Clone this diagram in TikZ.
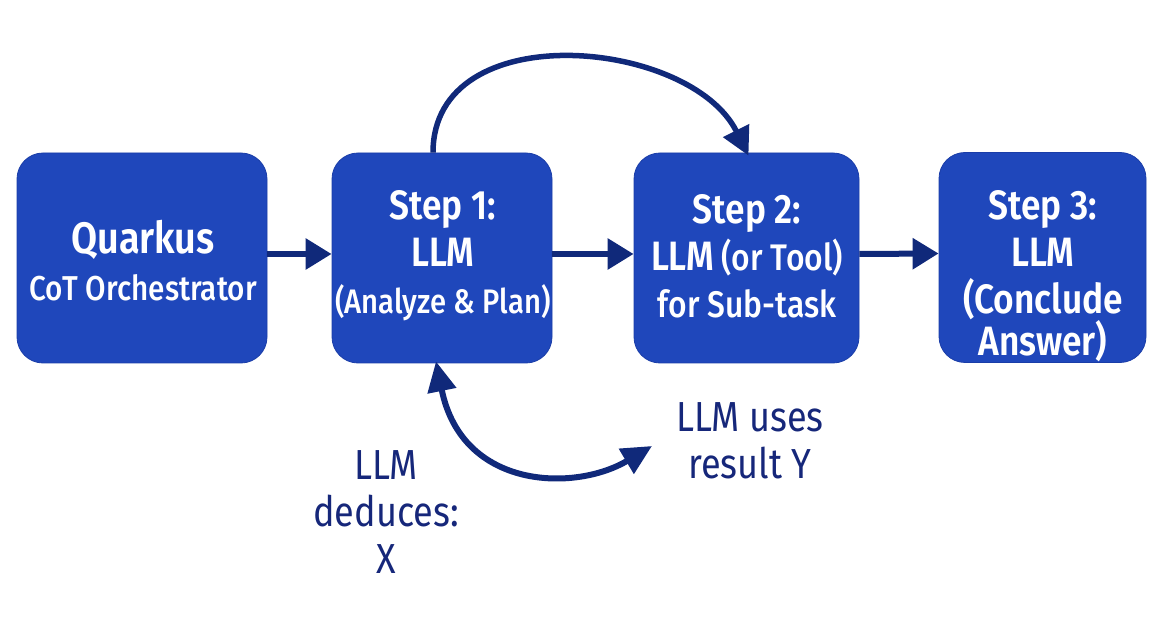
\documentclass[tikz,border=0pt]{standalone}
\usepackage{fontspec}
\setmainfont{Fira Sans Medium}[FakeStretch=0.86, BoldFont={Fira Sans SemiBold}, BoldFeatures={FakeStretch=0.86}]
\newfontfamily\regfont{Fira Sans}[FakeStretch=0.86]
\usetikzlibrary{arrows.meta}
\definecolor{boxblue}{HTML}{1F47BB}
\definecolor{boxedge}{HTML}{1A3DA8}
\definecolor{navy}{HTML}{10297A}
\definecolor{txtnavy}{HTML}{16277A}
\begin{document}
\begin{tikzpicture}[x=1pt,y=-1pt,
  box/.style={rounded corners=26pt, fill=boxblue, draw=boxedge, line width=0.8pt,
    minimum width=#1, minimum height=210pt, inner sep=0pt},
  boxtext/.style={text=white, align=center, inner sep=0pt, font=\fontsize{34.5}{47}\selectfont},
  lbl/.style={text=txtnavy, align=center, inner sep=0pt, font=\regfont\fontsize{42}{47}\selectfont},
  arr/.style={draw=navy, line width=6pt, -{Triangle[length=26pt,width=30pt]}},
  curvearr/.style={draw=navy, line width=5.5pt, -{Triangle[length=28pt,width=28pt]}},
  dblarr/.style={draw=navy, line width=6pt, {Triangle[length=30pt,width=28pt]}-{Triangle[length=30pt,width=28pt]}}
]
\useasboundingbox (0,0) rectangle (1173,636);
\newcommand\bsz{\fontsize{41}{47}\selectfont\bfseries}

\node[box=250pt] (b1) at (142,258) {};
\node[box=220pt] (b2) at (442,258) {};
\node[box=225pt] (b3) at (746.5,258) {};
\node[box=207pt] (b4) at (1042.5,257.5) {};

\node[boxtext] (t1) at (143,261) {{\fontsize{44}{52}\selectfont\bfseries Quarkus}\\CoT Orchestrator};
\node[boxtext] (t2) at (443,256) {{\bsz Step 1:}\\{\bsz LLM}\\{\fontsize{34}{47}\selectfont(Analyze \& Plan)}};
\node[boxtext] (t3) at (747,256) {{\bsz Step 2:}\\{\bsz LLM} {\fontsize{37}{47}\selectfont (or Tool)}\\{\fontsize{37}{47}\selectfont for Sub-task}};
\node[boxtext] (t4) at (1043,276) {{\bsz Step 3:}\\{\bsz LLM}\\{\bsz (Conclude}\\[-5pt]{\bsz Answer)}};

\draw[arr] ([yshift=4pt]b1.east) -- ([yshift=4pt]b2.west);
\draw[arr] ([yshift=4pt]b2.east) -- ([yshift=4pt]b3.west);
\draw[arr] ([yshift=4pt]b3.east) -- ([yshift=4pt]b4.west);

\draw[curvearr] ([xshift=-9pt]b2.north) .. controls (433,15) and (690,38) .. ([xshift=2pt,yshift=-3pt]b3.north);

\node[lbl] (uses) at (750,441) {LLM uses\\result Y};
\node[lbl] (ded) at (386,512) {LLM\\deduces:\\X};
\coordinate (yend) at (652,446);
\draw[dblarr] ([xshift=-6pt,yshift=2pt]b2.south) .. controls (462,490) and (575,492) .. (yend);
\end{tikzpicture}
\end{document}
